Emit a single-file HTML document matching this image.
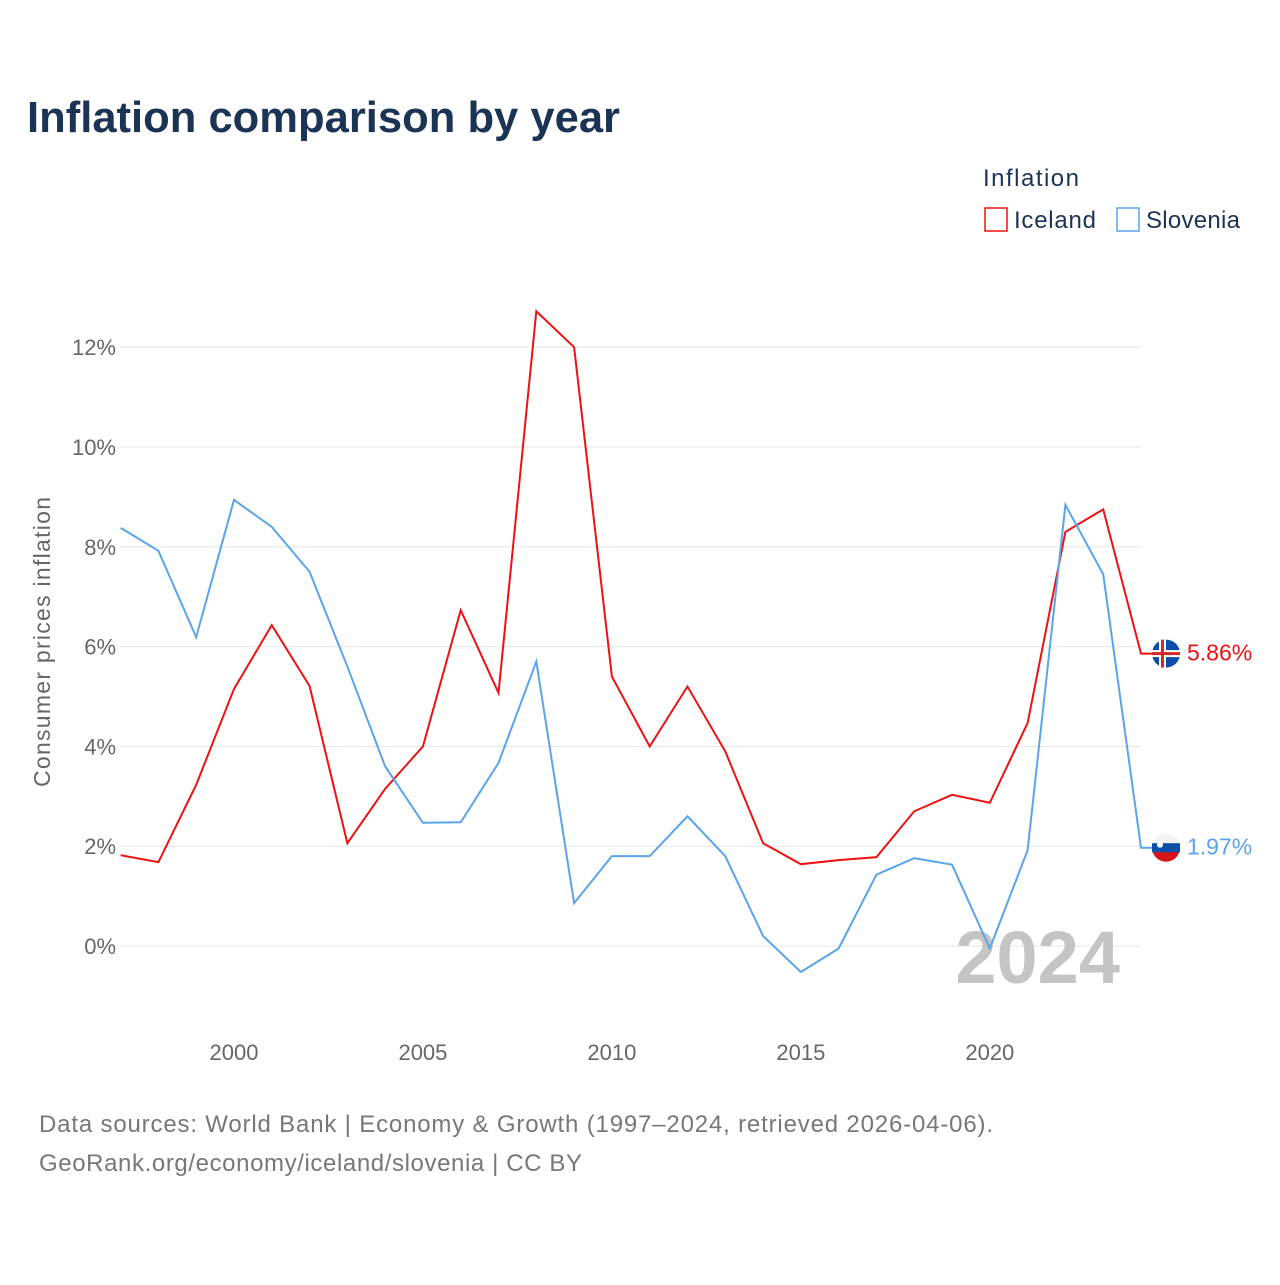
<!DOCTYPE html>
<html><head><meta charset="utf-8"><style>
body{margin:0;background:#fff;font-family:"Liberation Sans",sans-serif;}
svg text{font-family:"Liberation Sans",sans-serif;}
</style></head><body>
<svg width="1280" height="1280" id="chart">
<text x="27" y="132" font-size="44" font-weight="bold" fill="#1b3354" textLength="593" lengthAdjust="spacingAndGlyphs">Inflation comparison by year</text>
<text x="983" y="186" font-size="24" fill="#1b3354" textLength="96">Inflation</text>
<g><rect x="985" y="208" width="22" height="23" fill="none" stroke="#ee1111" stroke-width="1.5"/><text x="1014" y="228" font-size="24" fill="#1b3354" textLength="82">Iceland</text></g>
<g><rect x="1117" y="208" width="22" height="23" fill="none" stroke="#5ba4ea" stroke-width="1.5"/><text x="1146" y="228" font-size="24" fill="#1b3354" textLength="94">Slovenia</text></g>
<text transform="translate(50,642) rotate(-90)" text-anchor="middle" font-size="23" fill="#666" textLength="290">Consumer prices inflation</text>
<g id="grid"></g><g id="yt"></g><g id="xt"></g>
<text x="1120" y="983" text-anchor="end" font-size="74" font-weight="bold" fill="#c4c4c4">2024</text>
<g id="lines"></g><g id="ends"></g>
<text x="39" y="1132" font-size="24" fill="#777" textLength="954">Data sources: World Bank | Economy &amp; Growth (1997–2024, retrieved 2026-04-06).</text>
<text x="39" y="1171" font-size="24" fill="#777" textLength="543">GeoRank.org/economy/iceland/slovenia | CC BY</text>
</svg>
<script>
const years=[1997,1998,1999,2000,2001,2002,2003,2004,2005,2006,2007,2008,2009,2010,2011,2012,2013,2014,2015,2016,2017,2018,2019,2020,2021,2022,2023,2024];
const iceland=[1.82,1.68,3.23,5.15,6.43,5.21,2.06,3.15,4.0,6.73,5.07,12.72,12.0,5.4,4.0,5.2,3.9,2.06,1.64,1.72,1.78,2.7,3.03,2.87,4.47,8.3,8.75,5.86];
const slovenia=[8.38,7.92,6.19,8.94,8.4,7.5,5.6,3.6,2.47,2.48,3.67,5.7,0.86,1.8,1.8,2.6,1.8,0.2,-0.52,-0.05,1.43,1.76,1.63,-0.05,1.92,8.84,7.45,1.97];
const yTicks=[0,2,4,6,8,10,12];
const xTicks=[2000,2005,2010,2015,2020];
const NS="http://www.w3.org/2000/svg";
const X=y=>120.6+(y-1997)*(1141-120.6)/27;
const Y=v=>946-v*49.9;
function mk(t,a,p){const e=document.createElementNS(NS,t);for(const k in a)e.setAttribute(k,a[k]);p.appendChild(e);return e;}
const g=document.getElementById('grid'),yt=document.getElementById('yt'),xt=document.getElementById('xt');
yTicks.forEach(v=>{const l=mk('line',{x1:120,x2:1141,y1:Y(v),y2:Y(v),stroke:'#e6e6e6','stroke-width':1},g);


const t=mk('text',{x:116,y:Y(v)+8,'text-anchor':'end','font-size':22,fill:'#666'},yt);t.textContent=v+'%';

});
xTicks.forEach(v=>{const t=mk('text',{x:X(v),y:1060,'text-anchor':'middle','font-size':22,fill:'#666'},xt);t.textContent=v;

});
const L=document.getElementById('lines'),E=document.getElementById('ends');
[[iceland,'#ee1111','iceland'],[slovenia,'#5ba4ea','slovenia']].forEach(([d,c,n])=>{
let pts=d.map((v,i)=>X(years[i])+','+Y(v)).join(' ');const last=d[d.length-1];
pts+=' '+(X(2024)+12)+','+Y(last);
const p=mk('polyline',{points:pts,fill:'none',stroke:c,'stroke-width':2},L);


const cy=Y(last);
const f=mk('g',{},E);


if(n==='iceland'){mk('circle',{cx:1166,cy:cy,r:14,fill:'#0b4fa8'},f);mk('rect',{x:1152,y:cy-3.5,width:28,height:7,fill:'#fff'},f);mk('rect',{x:1159,y:cy-14,width:7,height:28,fill:'#fff'},f);mk('rect',{x:1152,y:cy-1.5,width:28,height:3,fill:'#d72828'},f);mk('rect',{x:1161,y:cy-14,width:3,height:28,fill:'#d72828'},f);}
else{mk('circle',{cx:1166,cy:cy,r:14,fill:'#f2f2f2'},f);mk('path',{d:`M1152,${cy} A14,14 0 0 0 1180,${cy} Z`,fill:'#d7141a'},f);mk('rect',{x:1152,y:cy-4.5,width:28,height:9,fill:'#0b4fa8'},f);mk('circle',{cx:1160,cy:cy-3,r:3,fill:'#fff'},f);}
const t=mk('text',{x:1187,y:cy+7,'font-size':23,fill:c},E);t.textContent=last.toFixed(2)+'%';

});
</script>
</body></html>
